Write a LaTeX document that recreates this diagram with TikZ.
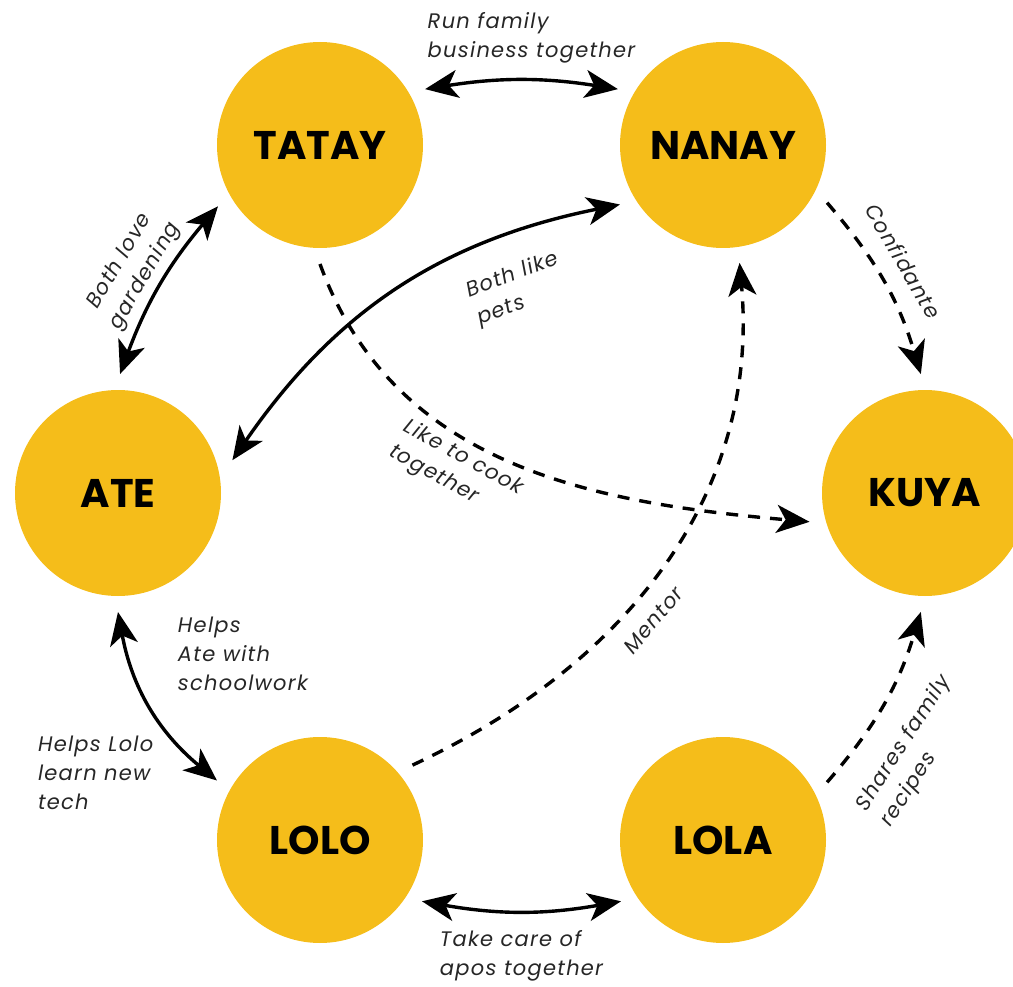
\documentclass[tikz,border=0pt]{standalone}
\usepackage{fontspec}
\usepackage{tikz}
\usetikzlibrary{arrows.meta,positioning}
\newfontfamily\namefam{Poppins}
\newfontfamily\notefam{Poppins}[LetterSpace=6]
\definecolor{gold}{RGB}{245,189,26}

\begin{document}
\begin{tikzpicture}[x=1pt, y=1pt, >={Stealth[length=33pt,width=28pt,inset=9pt]},
  person/.style={circle, fill=gold, minimum size=206pt, inner sep=0pt, outer sep=16pt, font=\namefam\bfseries\fontsize{40}{40}\selectfont},
  link/.style={line width=3.4pt, <->},
  tie/.style={line width=3.4pt, ->, dash pattern=on 12pt off 10pt},
  say/.style={font=\notefam\itshape\fontsize{21}{29}\selectfont, align=left, text=black!85}]
\useasboundingbox (0,0) rectangle (1013,-987);
\node[person] (tatay) at (320,-145) {TATAY};
\node[person] (nanay) at (723,-145) {NANAY};
\node[person] (ate) at (118,-493) {ATE};
\node[person] (kuya) at (925,-493) {KUYA};
\node[person] (lolo) at (320,-840) {LOLO};
\node[person] (lola) at (723,-840) {LOLA};

\draw[link] (tatay.28) to[bend left=9] node[say, above=12pt, xshift=10pt] {Run family\\business together} (nanay.152);
\draw[link] (ate.89) to[bend left=10] node[say, sloped, above=2pt, align=center] {Both love\\gardening} (tatay.211);
\draw[link] (ate.16) to[bend left=22] node[say, sloped, below=24pt, pos=.75] {Both like\\pets} (nanay.210);
\draw[tie] (tatay.270) to[out=-70, in=175] node[say, sloped, below=2pt, pos=.42] {Like to cook\\together} (kuya.194);
\draw[tie] (nanay.-29) to[bend left=12] node[say, sloped, above=14pt, pos=.45] {Confidante} (kuya.92);
\draw[tie] (lolo.39) to[out=25, in=-85] node[say, sloped, below=14pt, pos=.42] {Mentor} (nanay.-82);
\draw[tie] (lola.29) to[bend right=12] node[say, sloped, below=22pt, pos=.37] {Shares family\\recipes} (kuya.-92);
\draw[link] (lolo.-31) to[bend right=10] node[say, below=14pt] {Take care of\\apos together} (lola.211);
\draw[link] (ate.-90) to[bend right=20]
  node[say, pos=.2, anchor=west, xshift=45pt] {Helps\\Ate with\\schoolwork}
  node[say, pos=.95, anchor=east, xshift=-50pt] {Helps Lolo\\learn new\\tech} (lolo.150);
\end{tikzpicture}
\end{document}
